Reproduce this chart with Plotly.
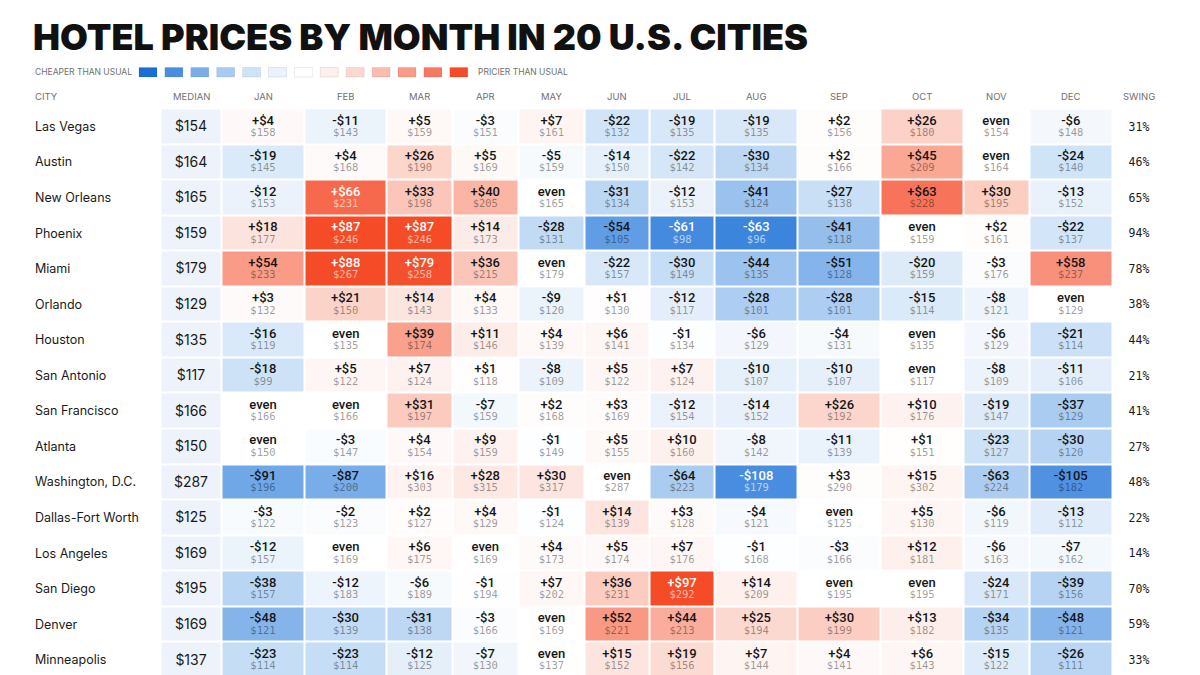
import plotly.graph_objects as go

# ---- data ----
cities = ["Las Vegas", "Austin", "New Orleans", "Phoenix", "Miami", "Orlando",
          "Houston", "San Antonio", "San Francisco", "Atlanta", "Washington, D.C.",
          "Dallas-Fort Worth", "Los Angeles", "San Diego", "Denver", "Minneapolis"]
months = ["JAN", "FEB", "MAR", "APR", "MAY", "JUN",
          "JUL", "AUG", "SEP", "OCT", "NOV", "DEC"]
medians = [154, 164, 165, 159, 179, 129, 135, 117, 166, 150, 287, 125, 169, 195, 169, 137]
# difference from the median, Jan..Dec
diffs = [
    [4, -11, 5, -3, 7, -22, -19, -19, 2, 26, 0, -6],
    [-19, 4, 26, 5, -5, -14, -22, -30, 2, 45, 0, -24],
    [-12, 66, 33, 40, 0, -31, -12, -41, -27, 63, 30, -13],
    [18, 87, 87, 14, -28, -54, -61, -63, -41, 0, 2, -22],
    [54, 88, 79, 36, 0, -22, -30, -44, -51, -20, -3, 58],
    [3, 21, 14, 4, -9, 1, -12, -28, -28, -15, -8, 0],
    [-16, 0, 39, 11, 4, 6, -1, -6, -4, 0, -6, -21],
    [-18, 5, 7, 1, -8, 5, 7, -10, -10, 0, -8, -11],
    [0, 0, 31, -7, 2, 3, -12, -14, 26, 10, -19, -37],
    [0, -3, 4, 9, -1, 5, 10, -8, -11, 1, -23, -30],
    [-91, -87, 16, 28, 30, 0, -64, -108, 3, 15, -63, -105],
    [-3, -2, 2, 4, -1, 14, 3, -4, 0, 5, -6, -13],
    [-12, 0, 6, 0, 4, 5, 7, -1, -3, 12, -6, -7],
    [-38, -12, -6, -1, 7, 36, 97, 14, 0, 0, -24, -39],
    [-48, -30, -31, -3, 0, 52, 44, 25, 30, 13, -34, -48],
    [-23, -23, -12, -7, 0, 15, 19, 7, 4, 6, -15, -26],
]
swing = [31, 46, 65, 94, 78, 38, 44, 21, 41, 27, 48, 22, 14, 70, 59, 33]

legend_colors = ["#1a6fd6", "#4a8ee0", "#7baee9", "#a9cbf1", "#cfe3f7", "#eaf2fb",
                 "#ffffff", "#fdefec", "#fcd8cf", "#fbbdae", "#f99c87", "#f77860", "#f54b27"]

# ---- layout (pixel coordinates) ----
ROW_TOP = 108.5
ROW_H = 35.55
MED_EDGES = [160.5, 221.5]
MONTH_EDGES = [221.5, 304.5, 386.8, 452.3, 518.3, 584.5, 649.3,
               714.8, 797.8, 880.9, 963.2, 1029.0, 1112.5]
SWING_X = 1139
FONT = "Inter"
MONO = "DejaVu Sans Mono"

row_edges = [ROW_TOP + i * ROW_H for i in range(len(cities) + 1)]
row_mid = [ROW_TOP + (i + 0.5) * ROW_H + 1.5 for i in range(len(cities))]
col_mid = [(MONTH_EDGES[j] + MONTH_EDGES[j + 1]) / 2 for j in range(len(months))]
med_mid = sum(MED_EDGES) / 2

pct = [[d / m for d in row] for row, m in zip(diffs, medians)]
scale = [[i / (len(legend_colors) - 1), c] for i, c in enumerate(legend_colors)]

fig = go.Figure()

# median column background
fig.add_trace(go.Heatmap(
    x=MED_EDGES, y=row_edges, z=[[0] for _ in cities],
    colorscale=[[0, "#eef3fb"], [1, "#eef3fb"]], showscale=False,
    xgap=2, ygap=2, hoverinfo="skip"))

# monthly cells
fig.add_trace(go.Heatmap(
    x=MONTH_EDGES, y=row_edges, z=pct,
    colorscale=scale, zmin=-0.45, zmax=0.45, showscale=False,
    xgap=2, ygap=2, hoverinfo="skip"))

# cell labels
dx, dy, dt, dc, pc = [], [], [], [], []
py = []
for i, row in enumerate(diffs):
    for j, d in enumerate(row):
        dx.append(col_mid[j])
        dy.append(row_mid[i] - 6.5)
        py.append(row_mid[i] + 5.5)
        if d == 0:
            dt.append("even")
        elif d > 0:
            dt.append("+$%d" % d)
        else:
            dt.append("-$%d" % -d)
        p = pct[i][j]
        if p >= 0.39 or p <= -0.37:
            dc.append("#ffffff")
            pc.append("rgba(255,255,255,0.62)")
        else:
            dc.append("#151515")
            pc.append("rgba(0,0,0,0.4)")

prices = ["$%d" % (m + d) for row, m in zip(diffs, medians) for d in row]

fig.add_trace(go.Scatter(
    x=dx, y=dy, text=dt, mode="text", hoverinfo="skip",
    textfont=dict(family="Roboto", size=13, color=dc, weight=500)))
fig.add_trace(go.Scatter(
    x=dx, y=py, text=prices, mode="text", hoverinfo="skip",
    textfont=dict(family=MONO, size=10.5, color=pc)))

# city names, medians, swing
fig.add_trace(go.Scatter(
    x=[35] * len(cities), y=row_mid, text=cities, mode="text",
    textposition="middle right", hoverinfo="skip",
    textfont=dict(family=FONT, size=12.5, color="#1a1a1a")))
fig.add_trace(go.Scatter(
    x=[med_mid] * len(cities), y=row_mid, text=["$%d" % m for m in medians],
    mode="text", hoverinfo="skip",
    textfont=dict(family=FONT, size=14, color="#1a1a1a")))
fig.add_trace(go.Scatter(
    x=[SWING_X] * len(cities), y=row_mid, text=["%d%%" % s for s in swing],
    mode="text", hoverinfo="skip",
    textfont=dict(family=MONO, size=11.5, color="#1a1a1a")))

# header row
head = dict(family=FONT, size=9.5, color="#707070")
ann = [dict(x=33, y=96, text="CITY", xanchor="left", font=head),
       dict(x=med_mid, y=96, text="MEDIAN", font=head),
       dict(x=SWING_X, y=96, text="SWING", font=head)]
for j, mo in enumerate(months):
    ann.append(dict(x=col_mid[j], y=96, text=mo, font=head))

# title and legend
ann.append(dict(x=31, y=37, text="HOTEL PRICES BY MONTH IN 20 U.S. CITIES",
                xanchor="left", font=dict(family=FONT, size=36, color="#111111", weight=900)))
leg = dict(family=FONT, size=8.5, color="#707070")
ann.append(dict(x=33, y=72, text="CHEAPER THAN USUAL", xanchor="left", font=leg))
ann.append(dict(x=476, y=72, text="PRICIER THAN USUAL", xanchor="left", font=leg))
for a in ann:
    a.update(xref="x", yref="y", showarrow=False, yanchor="middle")

shapes = []
for k, c in enumerate(legend_colors):
    x0 = 139 + k * 25.9
    shapes.append(dict(type="rect", xref="x", yref="y", x0=x0, x1=x0 + 18, y0=67.5, y1=77,
                       fillcolor=c, line=dict(color="rgba(0,0,0,0.08)", width=1)))

fig.update_layout(
    width=1200, height=675,
    margin=dict(l=0, r=0, t=0, b=0),
    paper_bgcolor="white", plot_bgcolor="white",
    showlegend=False,
    xaxis=dict(range=[0, 1200], visible=False, fixedrange=True),
    yaxis=dict(range=[675, 0], visible=False, fixedrange=True),
    annotations=ann, shapes=shapes,
)

fig.write_html("out.html", config=dict(displayModeBar=False),
               post_script="document.body.style.margin='0';")
